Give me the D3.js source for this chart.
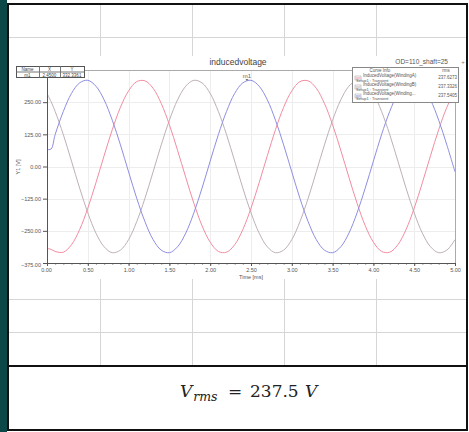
<!DOCTYPE html>
<html><head><meta charset="utf-8">
<script src="https://cdn.jsdelivr.net/npm/d3@7/dist/d3.min.js"></script>
<style>
body{margin:0;background:#fff;}
svg{display:block;font-family:"Liberation Sans",Arial,sans-serif;}
</style>
</head><body>
<svg id="c" width="469" height="432"></svg>
<script>
// ---- data ----
const times = [0,0.05,0.1,0.2,0.3,0.4,0.5,0.6,0.7,0.8,0.9,1.0,1.1,1.2,1.3,1.4,1.5,1.6,1.7,1.8,1.9,2.0,2.1,2.2,2.3,2.4,2.5,2.6,2.7,2.8,2.9,3.0,3.1,3.2,3.3,3.4,3.5,3.6,3.7,3.8,3.9,4.0,4.1,4.2,4.3,4.4,4.5,4.6,4.7,4.8,4.9,5.0];
const windingA = [-318,-322,-330,-333,-304,-245,-162,-63,42,143,230,294,330,333,304,245,162,63,-42,-143,-230,-294,-330,-333,-304,-245,-162,-63,42,143,230,294,330,333,304,245,162,63,-42,-143,-230,-294,-330,-333,-304,-245,-162,-63,42,143,230,294];
const windingB = [284,252,214,124,21,-84,-180,-259,-312,-335,-325,-284,-214,-124,-21,84,180,259,312,335,325,284,214,124,21,-84,-180,-259,-312,-335,-325,-284,-214,-124,-21,84,180,259,312,335,325,284,214,124,21,-84,-180,-259,-312,-335,-325,-284];
const windingC = [66,68,124,214,284,325,335,312,259,180,84,-21,-124,-214,-284,-325,-335,-312,-259,-180,-84,21,124,214,284,325,335,312,259,180,84,-21,-124,-214,-284,-325,-335,-312,-259,-180,-84,21,124,214,284,325,335,312,259,180,84,-21];
const xTicks = [0,0.5,1,1.5,2,2.5,3,3.5,4,4.5,5];
const yTicks = [-375,-250,-125,0,125,250];
const curveNames = ["InducedVoltage(WindingA)","InducedVoltage(WindingB)","InducedVoltage(Winding..."];
const rmsValues = ["237.6273","237.3326","237.5405"];
const markerX = [2.45];
const markerY = [332.3361];
const markerName = ["m1"];

const svg = d3.select("#c");
const W = 469, H = 432;

// outer page frame
svg.append("rect").attr("x",0).attr("y",0).attr("width",7).attr("height",H).attr("fill","#0c4848");
// spreadsheet faint grid
const gridCols = [100,192,284,376];
const gridRows = [37,299,332];
const bg = svg.append("g").attr("stroke","#d6d6d6").attr("stroke-width",1);
gridCols.forEach(c=>bg.append("line").attr("x1",c+0.5).attr("x2",c+0.5).attr("y1",4).attr("y2",365));
gridRows.forEach(r=>bg.append("line").attr("x1",8).attr("x2",466).attr("y1",r+0.5).attr("y2",r+0.5));

// chart image area
svg.append("rect").attr("x",9).attr("y",56).attr("width",456).attr("height",223).attr("fill","#fff");

// borders
const bk = svg.append("g").attr("stroke","#111").attr("stroke-width",2).attr("fill","none");
bk.append("line").attr("x1",8).attr("x2",8).attr("y1",3).attr("y2",431);
bk.append("line").attr("x1",467).attr("x2",467).attr("y1",3).attr("y2",431);
bk.append("line").attr("x1",7).attr("x2",468).attr("y1",4).attr("y2",4);
bk.append("line").attr("x1",7).attr("x2",468).attr("y1",366).attr("y2",366);
bk.append("line").attr("x1",7).attr("x2",468).attr("y1",430).attr("y2",430);

// scales
const x = d3.scaleLinear().domain([0,5]).range([47,455]);
const y = d3.scaleLinear().domain([-375,375]).range([263,70]);

// plot grid
const pg = svg.append("g").attr("stroke","#ededed").attr("stroke-width",1);
xTicks.slice(1,-1).forEach(t=>pg.append("line").attr("x1",Math.round(x(t))+0.5).attr("x2",Math.round(x(t))+0.5).attr("y1",70).attr("y2",263));
yTicks.slice(1).forEach(t=>pg.append("line").attr("x1",47).attr("x2",455).attr("y1",Math.round(y(t))+0.5).attr("y2",Math.round(y(t))+0.5));

// frame top/right
svg.append("line").attr("x1",47).attr("x2",455.5).attr("y1",70.5).attr("y2",70.5).attr("stroke","#aaa");
svg.append("line").attr("x1",455.5).attr("x2",455.5).attr("y1",70).attr("y2",263).attr("stroke","#aaa");

// curves
svg.append("clipPath").attr("id","pc").append("rect").attr("x",47).attr("y",70).attr("width",408).attr("height",193);
const line = vals => d3.line().x((d,i)=>x(times[i])).y(d=>y(d)).curve(d3.curveCatmullRom.alpha(0.5))(vals);
const series = [
  {v:windingB, c:"#bdb1b8"},
  {v:windingA, c:"#f28ca2"},
  {v:windingC, c:"#8e8ee2"}
];
const cg = svg.append("g").attr("clip-path","url(#pc)");
series.forEach(s=>cg.append("path").attr("d",line(s.v)).attr("fill","none").attr("stroke",s.c).attr("stroke-width",1));

// axes
const tf = d3.format(".2f");
const ax = svg.append("g").attr("transform","translate(0,263)")
  .call(d3.axisBottom(x).tickValues(xTicks).tickFormat(tf).tickSize(3).tickPadding(2));
const axm = svg.append("g").attr("transform","translate(0,263)")
  .call(d3.axisBottom(x).tickValues(d3.range(0,51).map(i=>i/10)).tickFormat("").tickSize(1.5));
axm.select(".domain").remove();
const ay = svg.append("g").attr("transform","translate(47,0)")
  .call(d3.axisLeft(y).tickValues(yTicks).tickFormat(tf).tickSize(4).tickPadding(2));
[ax,axm,ay].forEach(g=>{
  g.selectAll("path,line").attr("stroke","#555");
  g.selectAll("text").attr("fill","#555").style("font-size","5.5px");
});
ay.selectAll(".tick").filter(d=>d===-375).select("text").attr("dy","0.6em");
ax.selectAll(".tick").filter(d=>d===0).select("text").attr("dx","-1");

// axis labels
svg.append("text").attr("x",251).attr("y",279).attr("text-anchor","middle").attr("fill","#555").style("font-size","5.5px").text("Time [ms]");
svg.append("text").attr("transform","translate(20,167) rotate(-90)").attr("text-anchor","middle").attr("fill","#555").style("font-size","5.5px").text("Y1 [V]");

// title
svg.append("text").attr("x",238).attr("y",65).attr("text-anchor","middle").attr("fill","#444").style("font-size","8.5px").text("inducedvoltage");
svg.append("text").attr("x",448).attr("y",64).attr("text-anchor","end").attr("fill","#555").style("font-size","6.5px").text("OD=110_shaft=25");
svg.append("text").attr("x",463).attr("y",64).attr("text-anchor","middle").attr("fill","#777").style("font-size","6px").text("+");

// marker on curve
const mx = x(markerX[0]), my = y(markerY[0]);
svg.append("text").attr("x",mx).attr("y",my-3).attr("text-anchor","middle").attr("fill","#666").style("font-size","6px").text(markerName[0]);
svg.append("path").attr("d",`M${mx-1.5},${my-2}L${mx+1.5},${my-2}L${mx},${my}Z`).attr("fill","#777");

// marker table
const mt = svg.append("g");
mt.append("rect").attr("x",16.5).attr("y",66.5).attr("width",68).attr("height",11).attr("fill","#fff").attr("stroke","#555");
mt.append("line").attr("x1",16.5).attr("x2",84.5).attr("y1",72).attr("y2",72).attr("stroke","#777");
[39,60].forEach(c=>mt.append("line").attr("x1",c+0.5).attr("x2",c+0.5).attr("y1",66.5).attr("y2",77.5).attr("stroke","#777"));
const tt = (tx,ty,s)=>mt.append("text").attr("x",tx).attr("y",ty).attr("text-anchor","middle").attr("fill","#444").style("font-size","4.5px").text(s);
tt(27.5,71,"Name"); tt(49.5,71,"X"); tt(72,71,"Y");
tt(27.5,76.5,markerName[0]); tt(49.5,76.5,"2.4500"); tt(72,76.5,"332.3361");

// legend box
const lg = svg.append("g");
lg.append("rect").attr("x",352.5).attr("y",67.5).attr("width",106).attr("height",35).attr("fill","#fff").attr("stroke","#888");
lg.append("text").attr("x",380).attr("y",72).attr("text-anchor","middle").attr("fill","#555").style("font-size","4.5px").text("Curve Info");
lg.append("text").attr("x",446).attr("y",72).attr("text-anchor","middle").attr("fill","#555").style("font-size","4.5px").text("rms");
const legCols = ["#f28ca2","#bdb1b8","#8e8ee2"];
curveNames.forEach((n,i)=>{
  const ry = 77 + i*9;
  lg.append("rect").attr("x",355).attr("y",ry-1).attr("width",6).attr("height",4).attr("fill","#fff").attr("stroke","#999").attr("stroke-width",0.5);
  lg.append("line").attr("x1",355.5).attr("x2",360.5).attr("y1",ry+1).attr("y2",ry+1).attr("stroke",legCols[i]).attr("stroke-width",1);
  lg.append("text").attr("x",363).attr("y",ry).attr("fill","#555").style("font-size","4.5px").text(n);
  lg.append("text").attr("x",356).attr("y",ry+4.5).attr("fill","#555").style("font-size","4px").text("Setup1 : Transient");
  lg.append("text").attr("x",457).attr("y",ry+1.5).attr("text-anchor","end").attr("fill","#555").style("font-size","4.5px").text(rmsValues[i]);
});

// formula
const fs = "'DejaVu Serif','Liberation Serif',serif";
const ft = svg.append("text").attr("x",180).attr("y",397).attr("fill","#222")
  .style("font-family",fs).style("font-size","17px");
ft.append("tspan").style("font-style","italic").text("V");
ft.append("tspan").style("font-style","italic").style("font-size","12.5px").attr("dx",1).attr("dy",4).text("rms");
ft.append("tspan").attr("dy",-4).attr("x",228).text("=");
ft.append("tspan").attr("x",250).text("237.5");
ft.append("tspan").attr("x",305).style("font-style","italic").text("V");
</script>
</body></html>
